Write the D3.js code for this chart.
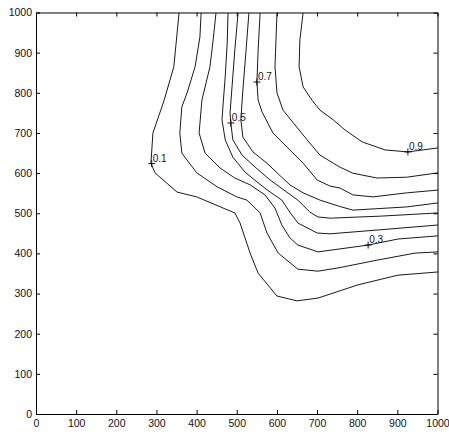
<!DOCTYPE html>
<html>
<head>
<meta charset="utf-8">
<script src="https://cdn.jsdelivr.net/npm/d3@7"></script>
<style>
  html, body { margin: 0; padding: 0; background: #fff; }
  svg { display: block; }
</style>
</head>
<body>
<div id="contour_chart"></div>
<script>
const CHART_ELEMENT_ID = "contour_chart";
const WIDTH = 449;
const HEIGHT = 434;

const xTicks = [0, 100, 200, 300, 400, 500, 600, 700, 800, 900, 1000];
const yTicks = [0, 100, 200, 300, 400, 500, 600, 700, 800, 900, 1000];

const levels = [0.1, 0.2, 0.3, 0.4, 0.5, 0.6, 0.7, 0.8, 0.9];

// contour paths, [x, y]
const c01 = [[355,1000],[342,866],[318,783],[290,701],[285,626],[295,602],[350,554],[399,542],[470,512],[494,502],[507,477],[532,402],[552,352],[599,295],[649,283],[701,290],[801,323],[900,347],[1000,355]];
const c02 = [[410,1000],[407,940],[395,866],[375,801],[362,766],[357,701],[362,651],[399,602],[450,567],[499,542],[524,534],[557,502],[574,452],[602,402],[651,362],[701,357],[751,365],[851,385],[943,402],[1000,405]];
const c03 = [[447,1000],[440,933],[432,866],[412,783],[405,701],[420,651],[457,614],[494,589],[532,572],[569,547],[594,514],[611,472],[631,440],[651,422],[701,405],[826,422],[900,437],[1000,445]];
const c04 = [[477,1000],[475,925],[470,841],[465,776],[462,734],[470,684],[489,641],[519,604],[552,577],[582,554],[611,534],[631,504],[651,477],[699,452],[731,450],[856,460],[1000,472]];
const c05 = [[502,1000],[494,908],[487,816],[482,751],[484,726],[489,684],[512,646],[547,614],[582,584],[619,557],[651,534],[681,504],[701,492],[731,489],[856,494],[1000,502]];
const c06 = [[529,1000],[522,908],[514,808],[509,734],[514,691],[539,654],[574,626],[599,602],[631,572],[664,552],[706,534],[756,518],[788,509],[838,512],[922,517],[1000,527]];
const c07 = [[557,1000],[552,908],[549,828],[552,783],[562,753],[589,701],[624,666],[664,626],[699,584],[731,569],[756,564],[788,547],[838,542],[922,552],[1000,559]];
const c08 = [[599,1000],[594,866],[599,801],[614,758],[644,721],[674,684],[706,646],[756,616],[788,601],[848,589],[922,591],[1000,602]];
const c09 = [[664,1000],[656,933],[654,866],[664,816],[686,783],[706,758],[739,734],[768,709],[811,679],[868,659],[925,654],[1000,664]];

const contourLines = [c01, c02, c03, c04, c05, c06, c07, c08, c09];

const labelLevels = [0.1, 0.3, 0.5, 0.7, 0.9];
const labelPoints = [[287,625],[826,422],[484,726],[549,828],[925,654]];

const svg = d3.select(`#${CHART_ELEMENT_ID}`).append("svg")
    .attr("width", WIDTH)
    .attr("height", HEIGHT)
    .style("background", "#fff");

const x = d3.scaleLinear().domain([0, 1000]).range([36, 437.5]);
const y = d3.scaleLinear().domain([0, 1000]).range([414, 12.5]);

const font = "'Liberation Sans', Arial, Helvetica, sans-serif";
const fmt = d3.format("d");

// contours
const plot = svg.append("g").attr("transform", "translate(0.5,0.5)");

const line = d3.line()
    .x(d => x(d[0]))
    .y(d => y(d[1]));

plot.append("g")
    .selectAll("path")
    .data(contourLines)
    .join("path")
    .attr("d", line)
    .attr("fill", "none")
    .attr("stroke", "#000")
    .attr("stroke-width", 0.9)
    .attr("stroke-linejoin", "round");

// labels
const labels = plot.append("g")
    .selectAll("g")
    .data(labelPoints)
    .join("g")
    .attr("transform", d => `translate(${x(d[0])},${y(d[1])})`);

labels.append("path")
    .attr("d", "M-3.5,0H3.5M0,-3.5V3.5")
    .attr("stroke", "#000")
    .attr("stroke-width", 0.9);

labels.append("text")
    .attr("x", 1)
    .attr("y", -2)
    .attr("font-family", font)
    .attr("font-size", 10)
    .attr("fill", "#111")
    .text((d, i) => labelLevels[i]);

// axes
const styleAxis = g => {
    g.attr("font-family", font).attr("font-size", 10.5);
    g.select(".domain").attr("stroke", "#000");
    g.selectAll(".tick line").attr("stroke", "#000");
    g.selectAll(".tick text").attr("fill", "#111");
};

svg.append("g")
    .attr("transform", "translate(0,414)")
    .call(d3.axisBottom(x).tickValues(xTicks).tickFormat(fmt).tickSizeInner(-4).tickSizeOuter(0).tickPadding(5.5))
    .call(styleAxis);

svg.append("g")
    .attr("transform", "translate(36,0)")
    .call(d3.axisLeft(y).tickValues(yTicks).tickFormat(fmt).tickSizeInner(-4).tickSizeOuter(0).tickPadding(4))
    .call(styleAxis);

svg.append("g")
    .attr("transform", "translate(0,12.5)")
    .call(d3.axisTop(x).tickValues(xTicks).tickSizeInner(-4).tickSizeOuter(0).tickFormat(""))
    .call(styleAxis);

svg.append("g")
    .attr("transform", "translate(437.5,0)")
    .call(d3.axisRight(y).tickValues(yTicks).tickSizeInner(-4).tickSizeOuter(0).tickFormat(""))
    .call(styleAxis);
</script>
</body>
</html>
